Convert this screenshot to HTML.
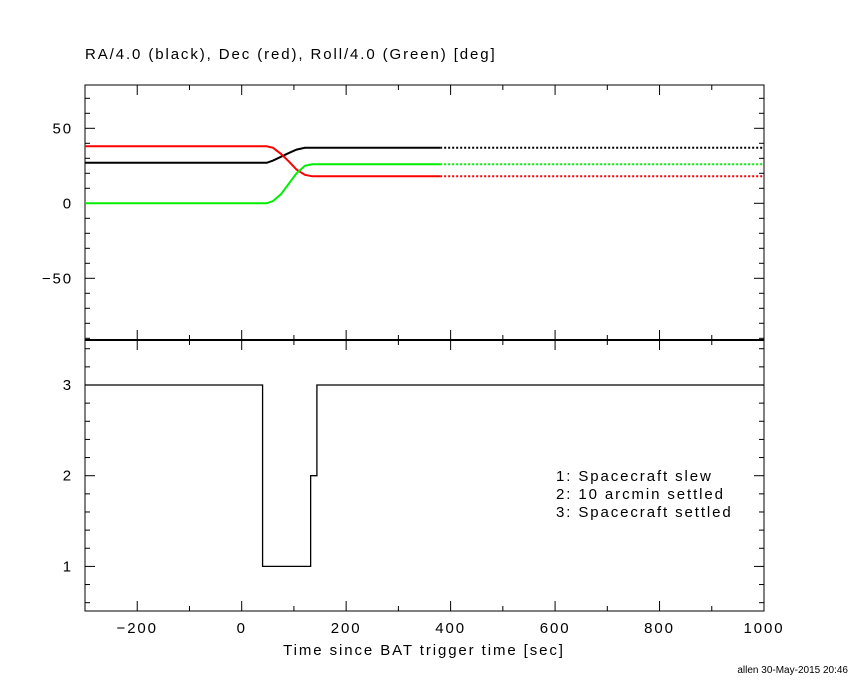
<!DOCTYPE html>
<html><head><meta charset="utf-8"><style>
body{margin:0;background:#fff}
svg text{font-family:"Liberation Sans",sans-serif;font-size:15px;fill:#000;letter-spacing:1.9px}
</style></head><body>
<svg id="c" width="850" height="680"></svg>
<script>
const times=[-300,48,60,75,90,105,121,135,380,1000];
const raVals=[27,27,28.5,31,33.5,35.8,37,37,37,37];
const decVals=[38,38,37,33,28,22.5,19,18,18,18];
const rollVals=[0,0,1.5,6,13,20,25,26,26,26];
const stepTimes=[-300,40,40,132,132,144,144,1000];
const stepVals=[3,3,1,1,2,2,3,3];
const xTicks=[-200,0,200,400,600,800,1000];
const topTicks=[-50,0,50];
const botTicks=[1,2,3];
const legendLines=["1: Spacecraft slew","2: 10 arcmin settled","3: Spacecraft settled"];
const solidEnd=380;

const svg=document.getElementById('c');
const NS='http://www.w3.org/2000/svg';
const L=85,R=764,T1=85,B1=340,T2=340,B2=611;
const X=t=>L+(t+300)/1300*(R-L);
const Y1=v=>203.3-v*1.5;
const Y2=v=>385-(v-3)*90.7;
function el(tag,attrs,name){const e=document.createElementNS(NS,tag);for(const k in attrs)e.setAttribute(k,attrs[k]);


svg.appendChild(e);return e;}
function txt(x,y,s,anchor,name){const e=el('text',{x:x,y:y,'text-anchor':anchor},name);e.textContent=s;return e;}

el('rect',{x:L,y:T1,width:R-L,height:B1-T1,fill:'none',stroke:'#000','stroke-width':1},'top-panel-frame');
el('rect',{x:L,y:T2,width:R-L,height:B2-T2,fill:'none',stroke:'#000','stroke-width':1},'bottom-panel-frame');
el('line',{x1:L,x2:R,y1:340,y2:340,stroke:'#000','stroke-width':2},'panel-divider');

for(let t=-300;t<=1000;t+=100){const major=t%200===0;const len=major?10:5;const x=X(t);
 [[T1,1],[B1,-1],[T2,1],[B2,-1]].forEach(([y,d])=>{el('line',{x1:x,x2:x,y1:y,y2:y+d*len,stroke:'#000'},'x-tick');});}
xTicks.forEach(t=>txt(X(t),633,t<0?'\u2212'+(-t):String(t),'middle','x-tick-label'));
for(let v=-90;v<=70;v+=10){const y=Y1(v);const len=v%50===0?10:5;
 el('line',{x1:L,x2:L+len,y1:y,y2:y,stroke:'#000'},'y-tick-top');
 el('line',{x1:R,x2:R-len,y1:y,y2:y,stroke:'#000'},'y-tick-top');}
topTicks.forEach(v=>txt(73,Y1(v)+5,v<0?'\u2212'+(-v):String(v),'end','y-tick-label-top'));
for(let i=3;i<=17;i++){const v=i/5;const y=Y2(v);const len=(i%5===0)?10:5;
 el('line',{x1:L,x2:L+len,y1:y,y2:y,stroke:'#000'},'y-tick-bottom');
 el('line',{x1:R,x2:R-len,y1:y,y2:y,stroke:'#000'},'y-tick-bottom');}
botTicks.forEach(v=>txt(73,Y2(v)+5,String(v),'end','y-tick-label-bottom'));

function series(vals,color,name){
 let solid=[],dot=[];
 times.forEach((t,i)=>{if(t<=solidEnd)solid.push(X(t)+','+Y1(vals[i]));if(t>=solidEnd)dot.push(X(t)+','+Y1(vals[i]));});
 el('polyline',{points:solid.join(' '),fill:'none',stroke:color,'stroke-width':2},name);
 el('polyline',{points:dot.join(' '),fill:'none',stroke:color,'stroke-width':2,'stroke-dasharray':'2,2'},name+'-dotted');
}
series(raVals,'#000','ra-line');
series(decVals,'#f00','dec-line');
series(rollVals,'#0e0','roll-line');

el('polyline',{points:stepTimes.map((t,i)=>X(t)+','+Y2(stepVals[i])).join(' '),fill:'none',stroke:'#000','stroke-width':1.3},'settle-status-line');

txt(85,59,'RA/4.0 (black), Dec (red), Roll/4.0 (Green) [deg]','start','top-title');
txt(424,655,'Time since BAT trigger time [sec]','middle','x-axis-title');
legendLines.forEach((s,i)=>txt(556,481+i*18,s,'start','legend-entry'));
const f=txt(848,673,'allen 30-May-2015 20:46','end','footer-stamp');f.setAttribute('style','font-size:10px;letter-spacing:0');
</script>
</body></html>
